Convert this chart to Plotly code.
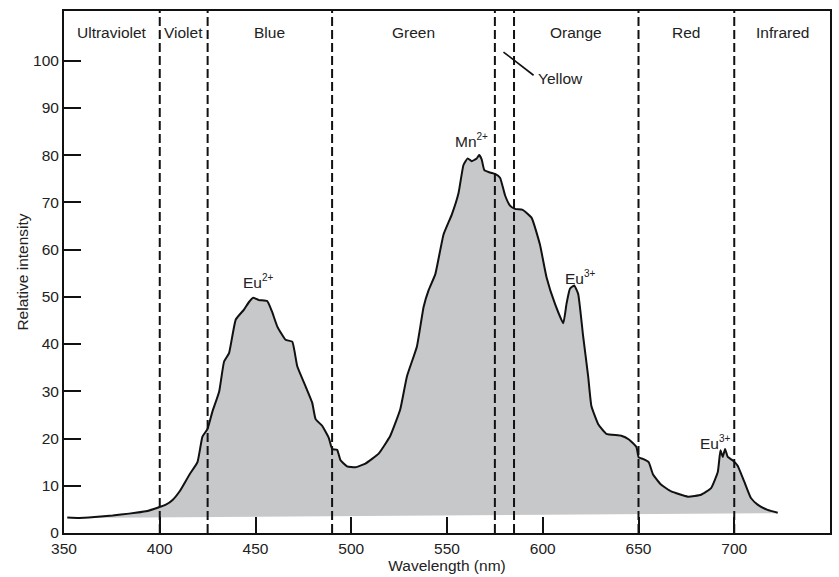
import plotly.graph_objects as go

# ---- data ----
wavelength = [351.7, 358, 366, 375.4, 384, 392.8, 398.5, 403.2, 406.7, 410.5, 415.4, 419.7,
              422.3, 424.9, 427.5, 431, 433.6, 436.2, 439.7, 444, 446.6, 448.8, 451.8, 456.1,
              458.5, 461.4, 465.7, 469.2, 471.8, 476.1, 479.6, 481.4, 484.8, 488.3, 490, 492.6,
              494.4, 497.8, 502.2, 507.4, 514.3, 520.4, 525.6, 529.1, 534.3, 537.8, 540.4, 543.9,
              548.2, 552.5, 556, 558.6, 560.8, 562.9, 565.5, 566.8, 568.1, 569.5, 572.5, 575.1,
              577.7, 580.3, 582.9, 585.5, 589.5, 594.2, 598.5, 602, 606.4, 610.7, 612.4, 614.2,
              616.4, 618.5, 621.1, 623.7, 625.4, 628.9, 633.2, 641, 645, 648.9, 650.1, 652.3,
              655.3, 657.6, 661.9, 667.1, 675.8, 682.7, 687.9, 691.4, 692.8, 694, 695.2, 696.6,
              699.1, 701.7, 705.3, 708.7, 712.2, 717.4, 722.7]
intensity = [3.3, 3.2, 3.4, 3.7, 4.1, 4.6, 5.3, 6.0, 7.0, 8.9, 12.3, 15.0,
             20.4, 22.0, 25.7, 29.9, 36.3, 38.1, 45.2, 47.3, 48.9, 49.8, 49.3, 49.1,
             47.0, 43.7, 40.9, 40.5, 35.3, 31.1, 27.6, 24.1, 22.7, 20.1, 17.8, 17.6,
             15.4, 14.1, 13.9, 14.7, 16.8, 20.6, 26.2, 33.2, 39.5, 47.9, 51.4, 54.8,
             63.2, 67.4, 71.9, 77.9, 79.3, 78.7, 79.3, 80.0, 79.1, 76.8, 76.3, 76.0,
             75.2, 71.5, 69.3, 68.6, 68.4, 66.7, 61.1, 54.1, 48.5, 44.4, 48.5, 51.7,
             52.4, 50.6, 41.6, 33.2, 26.9, 23.1, 21.0, 20.6, 19.8, 18.2, 16.0, 15.7,
             15.0, 12.4, 10.2, 8.8, 7.7, 8.1, 9.5, 12.9, 17.5, 16.1, 17.8, 16.1,
             15.4, 14.3, 10.8, 7.4, 6.0, 4.9, 4.3]

baseline_x = [351.7, 722.7]
baseline_y = [3.2, 4.2]

boundaries = [400, 425, 490, 575, 585, 650, 700]
region_names = ["Ultraviolet", "Violet", "Blue", "Green", "Orange", "Red", "Infrared"]
region_centers = [375, 412.5, 457.5, 532.5, 617.5, 675, 725]

ion_bases = ["Eu", "Mn", "Eu", "Eu"]
ion_charges = ["2+", "2+", "3+", "3+"]
ion_x = [451.8, 562.8, 619.9, 690.0]
ion_y = [53.3, 83.0, 54.0, 19.2]

x_ticks = [350, 400, 450, 500, 550, 600, 650, 700, 750]
y_ticks = [0, 10, 20, 30, 40, 50, 60, 70, 80, 90, 100]

FONT = "Liberation Sans, Arial, Helvetica, sans-serif"
FS = 15.5

fig = go.Figure()
fig.add_trace(go.Scatter(x=baseline_x, y=baseline_y, mode="lines",
                         line=dict(width=0, color="#c7c8ca"), hoverinfo="skip",
                         showlegend=False))
fig.add_trace(go.Scatter(x=wavelength, y=intensity, mode="lines",
                         line=dict(color="#111111", width=2, shape="spline", smoothing=0.4),
                         fill="tonexty", fillcolor="#c7c8ca", showlegend=False))

shapes = []
for b in boundaries:
    shapes.append(dict(type="line", xref="x", yref="paper", x0=b, x1=b, y0=0, y1=1,
                       line=dict(color="#111111", width=2, dash="9px,4px"), layer="above"))
# Yellow pointer line
shapes.append(dict(type="line", xref="x", yref="y", x0=579.5, y0=101.8, x1=595.2, y1=96.9,
                   line=dict(color="#111111", width=1.6)))

annotations = []
for name, cx in zip(region_names, region_centers):
    annotations.append(dict(x=cx, y=105.9, xref="x", yref="y", text=name, showarrow=False,
                            font=dict(family=FONT, size=FS, color="#222222")))
annotations.append(dict(x=596.5, y=96.2, xref="x", yref="y", text="Yellow", showarrow=False,
                        xanchor="left", font=dict(family=FONT, size=FS, color="#222222")))
for base, ch, xx, yy in zip(ion_bases, ion_charges, ion_x, ion_y):
    txt = base + "<sup><span style='font-size:10px'>" + ch + "</span></sup>"
    annotations.append(dict(x=xx, y=yy, xref="x", yref="y", text=txt, showarrow=False,
                            font=dict(family=FONT, size=FS, color="#222222")))

fig.update_layout(
    width=839, height=577,
    margin=dict(l=64, r=7, t=11, b=38),
    paper_bgcolor="white", plot_bgcolor="white",
    font=dict(family=FONT, size=FS, color="#222222"),
    shapes=shapes, annotations=annotations,
    xaxis=dict(range=[350, 750], tickvals=x_ticks, ticks="inside", ticklen=16, tickwidth=2,
               tickcolor="#111111", showline=True, linecolor="#111111", linewidth=2,
               mirror=True, showgrid=False, zeroline=False,
               title=dict(text="Wavelength (nm)", standoff=3, font=dict(size=FS)),
               tickfont=dict(size=FS)),
    yaxis=dict(range=[0, 110.5], tickvals=y_ticks, ticks="inside", ticklen=17, tickwidth=2,
               tickcolor="#111111", showline=True, linecolor="#111111", linewidth=2,
               mirror=True, showgrid=False, zeroline=False,
               title=dict(text="Relative intensity", standoff=1, font=dict(size=FS)),
               tickfont=dict(size=FS)),
)

fig.write_html("out.html")
